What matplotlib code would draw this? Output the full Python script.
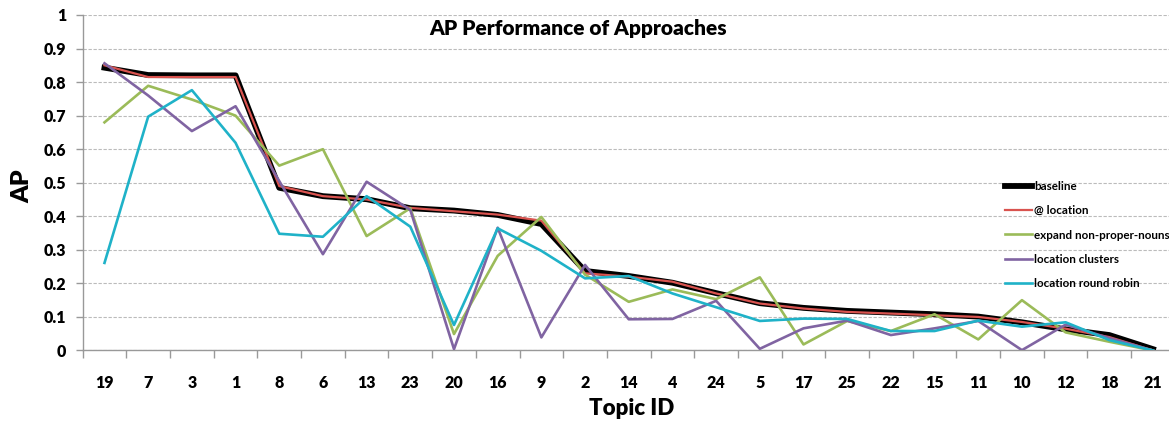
import matplotlib
matplotlib.use("Agg")
import matplotlib.pyplot as plt
from matplotlib.ticker import FixedLocator, NullFormatter

plt.rcParams['font.family'] = ['Lato', 'DejaVu Sans']

topics = ["19", "7", "3", "1", "8", "6", "13", "23", "20", "16", "9", "2", "14",
          "4", "24", "5", "17", "25", "22", "15", "11", "10", "12", "18", "21"]

baseline = [0.843, 0.821, 0.82, 0.82, 0.485, 0.46, 0.451, 0.424, 0.417, 0.404, 0.377, 0.237,
            0.222, 0.202, 0.171, 0.141, 0.127, 0.118, 0.113, 0.108, 0.101, 0.084, 0.063, 0.046, 0.004]
at_location = [0.85, 0.815, 0.815, 0.815, 0.49, 0.46, 0.45, 0.425, 0.415, 0.405, 0.387, 0.23,
               0.22, 0.205, 0.17, 0.14, 0.125, 0.115, 0.11, 0.105, 0.1, 0.085, 0.065, 0.04, 0.0]
expand_npn = [0.68, 0.789, 0.748, 0.70, 0.551, 0.60, 0.341, 0.424, 0.049, 0.282, 0.398, 0.226,
              0.145, 0.182, 0.153, 0.218, 0.018, 0.088, 0.058, 0.108, 0.033, 0.150, 0.054, 0.026, 0.0]
loc_clusters = [0.856, 0.76, 0.654, 0.728, 0.505, 0.287, 0.503, 0.419, 0.004, 0.366, 0.039, 0.255,
                0.093, 0.094, 0.148, 0.005, 0.066, 0.089, 0.046, 0.066, 0.088, 0.001, 0.077, 0.037, 0.0]
loc_rr = [0.261, 0.697, 0.776, 0.619, 0.348, 0.339, 0.46, 0.369, 0.076, 0.364, 0.297, 0.215,
          0.222, 0.170, 0.129, 0.088, 0.095, 0.094, 0.058, 0.058, 0.089, 0.071, 0.084, 0.031, 0.0]

labels = ["baseline", "@ location", "expand non-proper-nouns", "location clusters", "location round robin"]
yticks = [0, 0.1, 0.2, 0.3, 0.4, 0.5, 0.6, 0.7, 0.8, 0.9, 1]
ytick_labels = ["0", "0.1", "0.2", "0.3", "0.4", "0.5", "0.6", "0.7", "0.8", "0.9", "1"]

fig = plt.figure(figsize=(11.69, 4.21), dpi=100)
ax = fig.add_axes([0.0707, 0.1675, 0.9343, 0.7969])

x = list(range(len(topics)))
ax.plot(x, baseline, color="black", lw=4.2, label=labels[0], zorder=3)
ax.plot(x, at_location, color="#D9534F", lw=1.6, label=labels[1], zorder=4)
ax.plot(x, expand_npn, color="#9BBB59", lw=1.9, label=labels[2], zorder=5)
ax.plot(x, loc_clusters, color="#8064A2", lw=1.9, label=labels[3], zorder=6)
ax.plot(x, loc_rr, color="#1FB2C8", lw=1.9, label=labels[4], zorder=7)

ax.set_xlim(-0.5, len(topics) - 0.5)
ax.set_ylim(0, 1)
ax.set_yticks(yticks)
ax.set_yticklabels(ytick_labels, fontsize=11.5, fontweight="heavy")
ax.set_xticks(x)
ax.set_xticklabels(topics, fontsize=11.5, fontweight="heavy")
ax.tick_params(axis="x", which="major", length=0, pad=18)
ax.xaxis.set_minor_locator(FixedLocator([i - 0.5 for i in range(len(topics) + 1)]))
ax.xaxis.set_minor_formatter(NullFormatter())
ax.tick_params(axis="x", which="minor", length=6, color="#999999", width=1)
ax.tick_params(axis="y", length=5, color="#999999", width=1, pad=7)

ax.grid(axis="y", color="#BBBBBB", linestyle=(0, (3, 1.5)), lw=0.8)
ax.set_axisbelow(True)
for s in ["top", "right"]:
    ax.spines[s].set_visible(False)
for s in ["left", "bottom"]:
    ax.spines[s].set_color("#999999")
    ax.spines[s].set_linewidth(1)

ax.set_ylabel("AP", fontsize=18, fontweight="heavy")
ax.yaxis.label.set_va("center")
ax.yaxis.set_label_coords(-0.055, 0.49)
ax.set_xlabel("Topic ID", fontsize=16, fontweight="heavy")
ax.xaxis.label.set_va("center")
ax.xaxis.set_label_coords(0.503, -0.172)
ax.set_title("AP Performance of Approaches", fontsize=15, fontweight="heavy", x=0.454, y=0.915)

leg = ax.legend(loc="upper left", bbox_to_anchor=(0.840, 0.52), frameon=False,
                prop={"size": 8.4, "weight": "bold"}, handlelength=2.3, handletextpad=0.2,
                labelspacing=1.15, borderaxespad=0)

fig.savefig("out.png", dpi=100)
